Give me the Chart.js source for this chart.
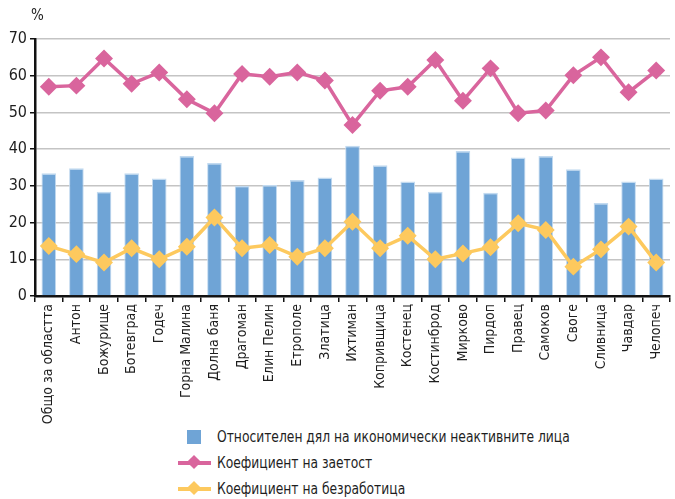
<!DOCTYPE html>
<html>
<head>
<meta charset="utf-8">
<script src="https://cdn.jsdelivr.net/npm/chart.js@4"></script>
<style>
  html, body { margin: 0; padding: 0; background: #fff; overflow: hidden; }
  body { width: 675px; height: 499px; position: relative; font-family: 'DejaVu Sans Condensed', 'Liberation Sans Narrow', sans-serif; color: #1e1e1e; }
  #wrap { position: absolute; left: 0; top: 0; width: 680px; height: 425px; }
  .unit { position: absolute; left: 31px; top: 6px; font-size: 15px; }
  .legend { position: absolute; left: 0; top: 426px; font-size: 16px; }
  .row { position: absolute; left: 178px; height: 22px; white-space: nowrap; }
  .row span.txt { position: absolute; left: 39px; top: 0; line-height: 22px; transform: scaleX(0.855); transform-origin: left center; }
  .box { position: absolute; left: 9px; top: 4px; width: 14px; height: 14px; background: #6fa4d6; }
  .ln { position: absolute; left: 0; top: 9px; width: 33px; height: 4px; }
  .dm { position: absolute; left: 11px; top: 5px; width: 10px; height: 10px; transform: rotate(45deg); }
</style>
</head>
<body>
<div id="wrap"><canvas id="chart"></canvas></div>
<div class="unit">%</div>
<div class="legend">
  <div class="row" style="top:0px"><div class="box"></div><span class="txt">Относителен дял на икономически неактивните лица</span></div>
  <div class="row" style="top:26px"><div class="ln" style="background:#d9659d"></div><div class="dm" style="background:#d9659d"></div><span class="txt">Коефициент на заетост</span></div>
  <div class="row" style="top:52px"><div class="ln" style="background:#fdc95e"></div><div class="dm" style="background:#fdc95e"></div><span class="txt">Коефициент на безработица</span></div>
</div>
<script>
const labels = ['Общо за областта', 'Антон', 'Божурище', 'Ботевград', 'Годеч', 'Горна Малина', 'Долна баня',
  'Драгоман', 'Елин Пелин', 'Етрополе', 'Златица', 'Ихтиман', 'Копривщица', 'Костенец', 'Костинброд',
  'Мирково', 'Пирдоп', 'Правец', 'Самоков', 'Своге', 'Сливница', 'Чавдар', 'Челопеч'];
const inactive = [33.4, 34.8, 28.4, 33.4, 32.0, 38.1, 36.2, 30.0, 30.2, 31.6, 32.3, 40.9, 35.6, 31.2, 28.4,
  39.5, 28.1, 37.7, 38.1, 34.5, 25.3, 31.2, 32.0];
const employment = [57.0, 57.3, 64.7, 57.8, 60.9, 53.6, 49.8, 60.5, 59.7, 60.9, 58.7, 46.6, 55.9, 57.0, 64.3,
  53.2, 62.0, 49.8, 50.5, 60.1, 65.0, 55.5, 61.4];
const unemployment = [13.6, 11.4, 9.1, 13.0, 10.0, 13.4, 21.4, 13.0, 13.9, 10.7, 13.0, 20.2, 13.0, 16.4, 10.0,
  11.6, 13.3, 19.8, 18.0, 8.0, 12.7, 18.9, 9.1];

const font = "'DejaVu Sans Condensed', 'Liberation Sans Narrow', sans-serif";

new Chart(document.getElementById('chart'), {
  data: {
    labels: labels,
    datasets: [
      { type: 'line', label: 'Коефициент на заетост', data: employment, borderColor: '#d9659d', backgroundColor: '#d9659d',
        borderWidth: 3.5, pointStyle: 'rectRot', pointRadius: 6.5, pointHoverRadius: 6.5, tension: 0, order: 1 },
      { type: 'line', label: 'Коефициент на безработица', data: unemployment, borderColor: '#fdc95e', backgroundColor: '#fdc95e',
        borderWidth: 3.5, pointStyle: 'rectRot', pointRadius: 6.5, pointHoverRadius: 6.5, tension: 0, order: 2 },
      { type: 'bar', label: 'Относителен дял на икономически неактивните лица', data: inactive, backgroundColor: '#6fa4d6',
        borderColor: '#c2daf0', borderWidth: { top: 1.5, left: 1, right: 1, bottom: 0 },
        categoryPercentage: 1, barPercentage: 0.53, order: 3 }
    ]
  },
  options: {
    responsive: true,
    maintainAspectRatio: false,
    animation: false,
    layout: { padding: { left: 0, right: 1, top: 39, bottom: 0 } },
    plugins: { legend: { display: false }, tooltip: { enabled: false } },
    scales: {
      x: {
        offset: true,
        grid: { display: true, offset: true, drawOnChartArea: false, drawTicks: true, tickLength: 6, color: '#111', lineWidth: 1.5 },
        border: { display: true, color: '#111', width: 2.5 },
        ticks: { autoSkip: false, maxRotation: 90, minRotation: 90, color: '#1e1e1e', font: { family: font, size: 14 }, padding: 2 },
        afterFit: s => { s.height = 129; }
      },
      y: {
        min: 0, max: 70,
        ticks: { stepSize: 10, color: '#1e1e1e', font: { family: font, size: 16 }, padding: 3 },
        grid: { color: '#c4c4c4', lineWidth: 1.5, tickColor: '#111', tickLength: 5 },
        border: { display: true, color: '#111', width: 2.5 },
        afterFit: s => { s.width = 35; }
      }
    }
  }
});
</script>
</body>
</html>
